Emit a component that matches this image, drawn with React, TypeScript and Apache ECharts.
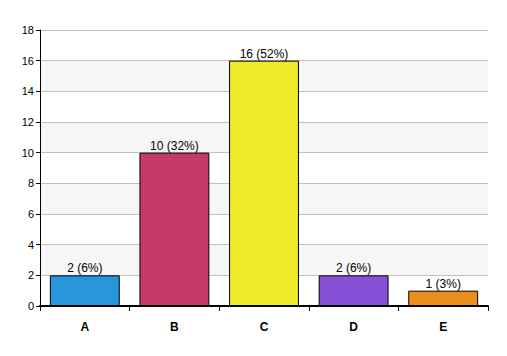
import React, { useEffect, useRef } from "react";
import * as echarts from "echarts";

const categories = ["A", "B", "C", "D", "E"];
const values = [2, 10, 16, 2, 1];
const labels = ["2 (6%)", "10 (32%)", "16 (52%)", "2 (6%)", "1 (3%)"];
const colors = ["#2896db", "#c43a68", "#efeb2a", "#884fd7", "#e88f1e"];

export default function App() {
  const ref = useRef<HTMLDivElement>(null);
  useEffect(() => {
    const chart = echarts.init(ref.current!, null, { renderer: "svg" });
    chart.setOption({
      animation: false,
      backgroundColor: "#ffffff",
      grid: { left: 40, right: 19, top: 30, bottom: 50 },
      xAxis: {
        type: "category",
        data: categories,
        axisLine: { lineStyle: { color: "#000", width: 2 } },
        axisTick: { show: true, length: 5, lineStyle: { color: "#000", width: 1 } },
        axisLabel: { color: "#000", fontWeight: "bold", fontSize: 12, fontFamily: "Arial, Liberation Sans", margin: 15 },
      },
      yAxis: {
        type: "value",
        min: 0,
        max: 18,
        interval: 2,
        axisLine: { show: true, lineStyle: { color: "#000", width: 1 } },
        axisTick: { show: true, length: 4, lineStyle: { color: "#000" } },
        axisLabel: { color: "#000", fontSize: 11, fontFamily: "Arial, Liberation Sans", margin: 6 },
        splitLine: { show: true, lineStyle: { color: "#c0c0c0", width: 1 } },
        splitArea: { show: true, areaStyle: { color: ["#ffffff", "#f6f6f6"] } },
      },
      series: [
        {
          type: "bar",
          data: values.map((v, i) => ({ value: v, itemStyle: { color: colors[i] } })),
          barCategoryGap: "22%",
          itemStyle: { borderColor: "#000", borderWidth: 1 },
          label: {
            show: true,
            position: "top",
            distance: 1,
            color: "#000",
            fontSize: 12,
            fontFamily: "Arial, Liberation Sans",
            formatter: (p: any) => labels[p.dataIndex],
          },
        },
      ],
    });
    return () => chart.dispose();
  }, []);
  return <div ref={ref} style={{ width: 507, height: 356, position: "absolute", left: 0, top: 0 }} />;
}
